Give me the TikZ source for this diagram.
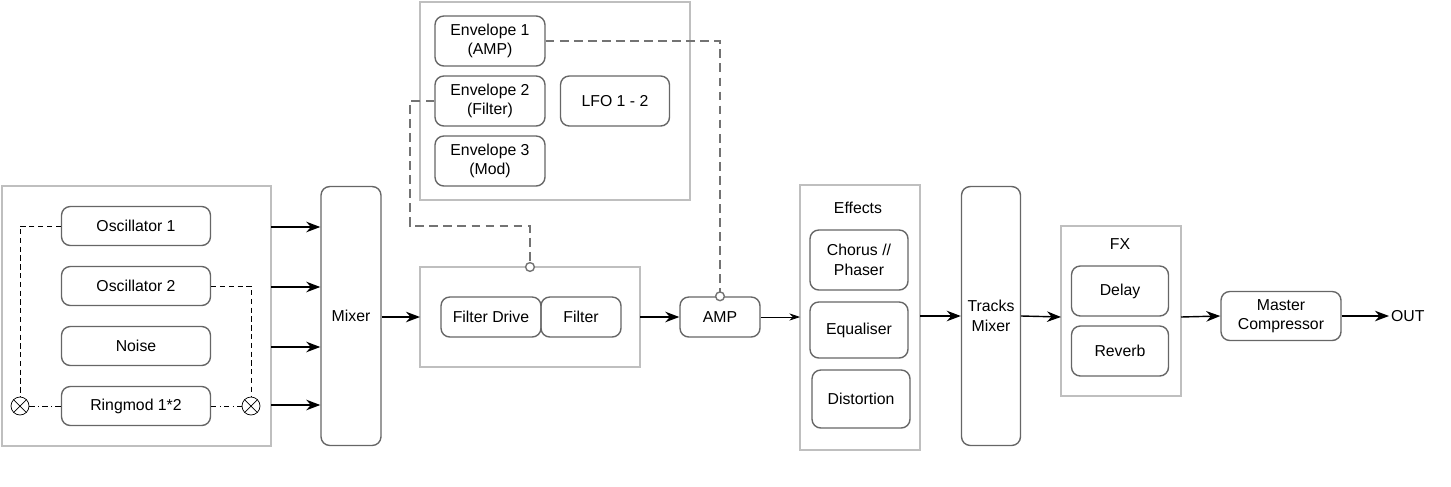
\documentclass[tikz,border=0pt]{standalone}
\usepackage{fontspec}
\setmainfont{Liberation Sans}
\usetikzlibrary{arrows.meta,positioning}
\tikzset{
  blk/.style={draw=black!60,rounded corners=5pt,thick,align=center,inner sep=0pt},
  grp/.style={draw=black!25,thick},
  sig/.style={-{Stealth[length=8pt,width=6pt]},thick},
  mod/.style={draw=black!55,dashed,thick,dash pattern=on 5pt off 3pt},
  dot/.style={circle,draw=black!55,thick,fill=white,inner sep=0pt,minimum size=5pt}
}
\newcommand{\blkat}[6]{\node[blk,minimum width=#3,minimum height=#4] (#1) at (#2) {#5#6};}
\begin{document}
\begin{tikzpicture}[x=0.02cm,y=-0.02cm,font=\fontsize{9}{11}\selectfont]
\useasboundingbox (0,0) rectangle (1451,487);
% oscillator section
\draw[grp] (2,186) rectangle (271,446);
\node[blk,minimum width=2.98cm,minimum height=0.78cm] (osc1) at (136,226) {Oscillator 1};
\node[blk,minimum width=2.98cm,minimum height=0.78cm] (osc2) at (136,286) {Oscillator 2};
\node[blk,minimum width=2.98cm,minimum height=0.78cm] (noise) at (136,346) {Noise};
\node[blk,minimum width=2.98cm,minimum height=0.78cm] (ring) at (136,406) {Ringmod 1*2};
\node[circle,draw,minimum size=0.36cm,inner sep=0pt] (mulL) at (20,406) {};
\node[circle,draw,minimum size=0.36cm,inner sep=0pt] (mulR) at (251,406) {};
\foreach \m in {mulL,mulR} {
  \draw (\m.north west) -- (\m.south east);
  \draw (\m.north east) -- (\m.south west);
}
\draw[densely dashed] (osc1.west) -| (mulL.north);
\draw[densely dashed] (osc2.east) -| (mulR.north);
\draw[dash dot] (mulL) -- (ring.west);
\draw[dash dot] (ring.east) -- (mulR);
% mixer
\node[blk,minimum width=1.2cm,minimum height=5.18cm] (mixer) at (351,316) {Mixer};
\foreach \y in {227,287,347,405}
  \draw[sig] (271,\y) -- (mixer.west |- 0,\y);
% filter section
\draw[grp] (420,267) rectangle (640,367);
\coordinate (fgin) at (420,317);
\coordinate (fgout) at (640,317);
\coordinate (fgtop) at (530,267);
\node[blk,minimum width=2cm,minimum height=0.8cm] (fdrive) at (491,317) {Filter Drive};
\node[blk,minimum width=1.6cm,minimum height=0.8cm] (filter) at (581,317) {Filter};
\draw[sig] (mixer.east |- fgin) -- (fgin);
\node[blk,minimum width=1.6cm,minimum height=0.8cm] (amp) at (720,317) {AMP};
\draw[sig] (fgout) -- (amp.west);
% modulation section
\draw[grp] (420,2) rectangle (690,200);
\node[blk,minimum width=2.2cm,minimum height=1cm] (env1) at (490,41) {Envelope 1\\(AMP)};
\node[blk,minimum width=2.2cm,minimum height=1cm] (env2) at (490,101) {Envelope 2\\(Filter)};
\node[blk,minimum width=2.2cm,minimum height=1cm] (env3) at (490,161) {Envelope 3\\(Mod)};
\node[blk,minimum width=2.18cm,minimum height=1cm] (lfo) at (615,101) {LFO 1 - 2};
\draw[mod] (env1.east) -| (amp.north);
\draw[mod] (env2.west) -- (410,101) |- (530,226) -- (fgtop);
\node[dot] at (amp.north) {};
\node[dot] at (fgtop) {};
% effects
\draw[grp] (800,185) rectangle (920,450);
\node (efx) at (858,208) {Effects};
\node[blk,minimum width=1.96cm,minimum height=1.2cm] (chorus) at (859,260) {Chorus //\\Phaser};
\node[blk,minimum width=1.96cm,minimum height=1.12cm] (eq) at (859,330) {Equaliser};
\node[blk,minimum width=1.96cm,minimum height=1.16cm] (dist) at (861,399) {Distortion};
\draw[-{Stealth[length=6pt,width=4pt]}] (amp.east) -- (800,317);
\node[blk,minimum width=1.18cm,minimum height=5.18cm] (tracks) at (991,316) {Tracks\\Mixer};
\draw[sig] (920,316) -- (tracks.west);
% fx
\draw[grp] (1061,226) rectangle (1181,396);
\node (fxlbl) at (1120,244) {FX};
\node[blk,minimum width=1.94cm,minimum height=1cm] (delay) at (1120,291) {Delay};
\node[blk,minimum width=1.94cm,minimum height=1cm] (reverb) at (1120,351) {Reverb};
\draw[sig] (tracks.east) -- (1061,317);
\node[blk,minimum width=2.4cm,minimum height=0.98cm] (comp) at (1281,316) {Master\\Compressor};
\draw[sig] (1181,317) -- (comp.west);
\node[anchor=west,inner sep=1pt] (out) at (1389,316) {OUT};
\draw[sig] (comp.east) -- (out.west);
\end{tikzpicture}
\end{document}
